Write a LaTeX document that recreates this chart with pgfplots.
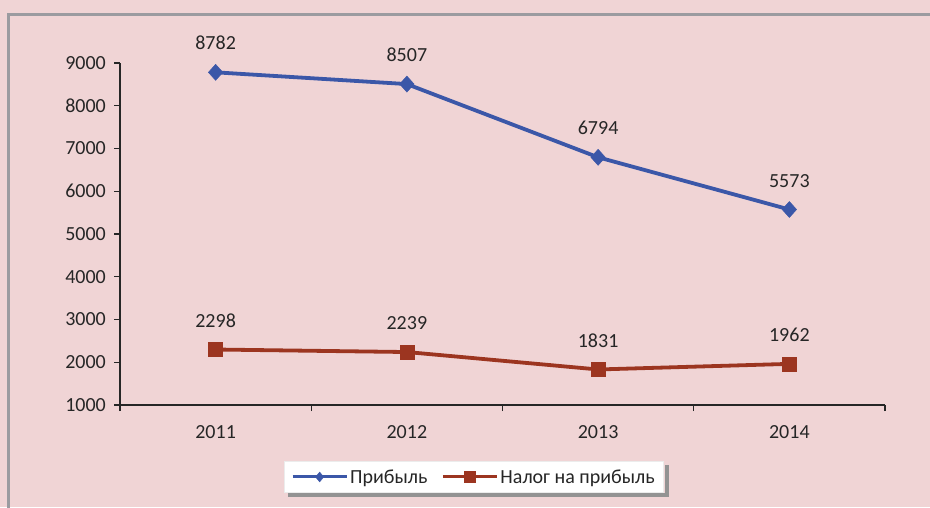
\documentclass[border=0pt]{standalone}
\usepackage{fontspec}
\setmainfont{Carlito}
\usepackage{pgfplots}
\pgfplotsset{compat=1.18}
\definecolor{bg}{RGB}{240,212,213}
\definecolor{frm}{RGB}{155,155,160}
\definecolor{blu}{RGB}{59,87,168}
\definecolor{rd}{RGB}{156,53,32}
\definecolor{txt}{RGB}{38,38,38}
\begin{document}
\begin{tikzpicture}[x=1pt,y=1pt]
\useasboundingbox (0,0) rectangle (930,507);
\clip (0,0) rectangle (930,507);
\fill[bg] (0,0) rectangle (930,507);
\draw[frm,line width=3pt] (8,-10) -- (8,492.5) -- (945,492.5);
\begin{axis}[
  at={(120pt,102pt)}, anchor=south west,
  scale only axis, width=765pt, height=342pt,
  xmin=-0.5, xmax=3.5, ymin=1000, ymax=9000,
  axis x line=bottom, axis y line=left,
  axis line style={-, line width=1.6pt, txt},
  xtick={0,1,2,3}, xticklabels={2011,2012,2013,2014},
  minor xtick={-0.5,0.5,1.5,2.5,3.5},
  ytick={1000,2000,...,9000},
  tick align=outside,
  major tick length=6pt, minor tick length=6pt,
  major x tick style={draw=none},
  tick style={line width=1.3pt, txt},
  font=\fontsize{20}{23}\selectfont,
  /pgf/number format/assume math mode=true,
  /pgf/number format/1000 sep={},
  ticklabel style={text=txt},
  xticklabel style={inner sep=0pt, yshift=-14pt},
  yticklabel style={inner sep=0pt, xshift=-8pt},
  nodes near coords,
  every node near coord/.append style={font=\fontsize{20}{23}\selectfont, text=txt, inner sep=0pt, anchor=south, yshift=22pt},
  legend columns=2,
  legend style={name=leg, at={(0.4627,-0.2105)}, anchor=center, fill=white, draw=white!85!gray, line width=0.8pt,
    font=\fontsize{20}{23}\selectfont, text=txt, inner xsep=7pt, inner ysep=6pt,
    /tikz/every even column/.append style={column sep=12pt}},
  legend image code/.code={\draw[#1,mark repeat=2,mark phase=2] plot coordinates {(0pt,0pt)(27pt,0pt)(54pt,0pt)};},
  clip=false,
]
\addplot[blu, line width=3.8pt, mark=diamond*, mark size=8pt, mark options={xscale=1.2, line width=0.5pt}, forget plot] coordinates {(0,8782)(1,8507)(2,6794)(3,5573)};
\addplot[rd, line width=3.8pt, mark=square*, mark size=7pt, mark options={line width=0.5pt}, forget plot] coordinates {(0,2298)(1,2239)(2,1831)(3,1962)};
\addlegendimage{blu, line width=3pt, mark=diamond*, mark size=5pt, mark options={xscale=1.1, line width=0.3pt}}
\addlegendentry{Прибыль}
\addlegendimage{rd, line width=3pt, mark=square*, mark size=5.5pt, mark options={line width=0.3pt}}
\addlegendentry{Налог на прибыль}
\end{axis}
\fill[gray!85] ([xshift=0.4pt,yshift=-4pt]leg.north east) rectangle ([xshift=4.4pt,yshift=-4.4pt]leg.south east);
\fill[gray!85] ([xshift=4pt,yshift=-0.4pt]leg.south west) rectangle ([xshift=4.4pt,yshift=-4.4pt]leg.south east);
\end{tikzpicture}
\end{document}
